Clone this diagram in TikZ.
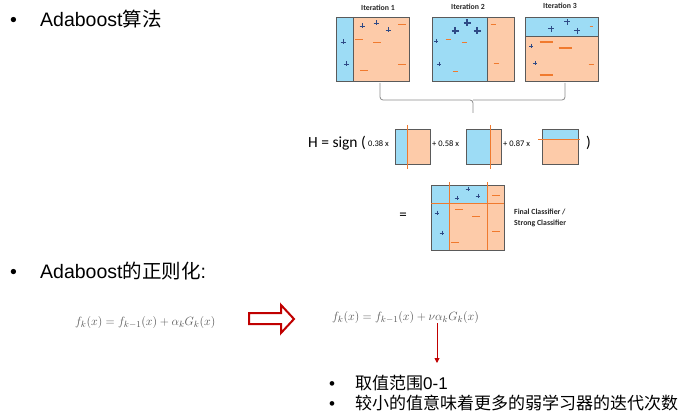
\documentclass[tikz,border=0pt]{standalone}
\usepackage{fontspec}
\usetikzlibrary{arrows.meta}
\setmainfont{Liberation Sans}
\newfontfamily\cjk{Noto Sans CJK SC}
\newfontfamily\calib{Carlito}
\definecolor{bluef}{HTML}{9DDCF5}
\definecolor{orangef}{HTML}{FDCBA9}
\definecolor{orangem}{HTML}{F07A2E}
\definecolor{plusc}{HTML}{2E4A86}
\definecolor{edgec}{HTML}{5A5A5A}
\definecolor{mathgray}{HTML}{555555}
\definecolor{darkred}{HTML}{C00000}
\definecolor{bracec}{HTML}{8A8A8A}
\newcommand\pls[3]{\draw[plusc,line width=#3/3] (#1-#3,#2)--(#1+#3,#2) (#1,#2-#3)--(#1,#2+#3);}
\newcommand\mns[4]{\draw[orangem,line width=#4] (#1-#3,#2)--(#1+#3,#2);}
\tikzset{
  boxedge/.style={draw=edgec,line width=0.9},
  sepline/.style={orangem,line width=1},
  ititle/.style={font=\calib\bfseries\fontsize{7.8}{9}\selectfont,text=black!85},
  coef/.style={font=\calib\fontsize{8.5}{10}\selectfont,anchor=west,inner sep=0},
  bigtxt/.style={font=\fontsize{19.5}{23}\selectfont,anchor=base west,inner sep=0},
  smalltxt/.style={font=\fontsize{17}{20}\selectfont,anchor=base west,inner sep=0},
  mathtxt/.style={font=\fontsize{12.7}{15}\selectfont,text=mathgray,anchor=base west,inner sep=0},
}
\begin{document}
\begin{tikzpicture}[x=1pt,y=-1pt]
\useasboundingbox (0,0) rectangle (682,414);
% ---- top bullet
\node[bigtxt] (b1) at (10,27) {•};
\node[bigtxt] (t1) at (40,27) {Adaboost{\cjk 算法}};
% ---- iteration 1
\node[ititle] (it1) at (378,8) {Iteration 1};
\fill[orangef] (336,17) rectangle (409,81);
\fill[bluef] (336,17) rectangle (353,81);
\draw[edgec,line width=0.8] (353,17)--(353,81);
\draw[boxedge] (336,17) rectangle (409,81);
\pls{362}{26}{2.5}\pls{376}{23}{2.5}\pls{388}{30}{2.5}\pls{343}{42}{2.5}\pls{346}{64}{2.5}
\mns{402}{25}{4}{1}\mns{359}{40}{4}{1}\mns{377}{43}{4}{1}\mns{402}{65}{4}{1}\mns{364}{71}{4}{1}
% ---- iteration 2
\node[ititle] (it2) at (468,7) {Iteration 2};
\fill[bluef] (432,17) rectangle (514,81);
\fill[orangef] (487,17) rectangle (514,81);
\draw[edgec,line width=0.8] (487,17)--(487,81);
\draw[boxedge] (432,17) rectangle (514,81);
\pls{455}{31}{3.5}\pls{467}{23}{3.5}\pls{477}{31}{3.5}\pls{436}{41}{2}\pls{439}{64}{2}
\mns{493}{25}{2.5}{1}\mns{448}{40}{2.5}{1}\mns{464}{43}{2.5}{1}\mns{496}{64}{2.5}{1}\mns{455}{72}{2.5}{1}
% ---- iteration 3
\node[ititle] (it3) at (560,6) {Iteration 3};
\fill[orangef] (525,17) rectangle (598,81);
\fill[bluef] (525,17) rectangle (598,36);
\draw[edgec,line width=0.8] (525,36)--(598,36);
\draw[boxedge] (525,17) rectangle (598,81);
\pls{551}{29}{3}\pls{567}{22}{3}\pls{577}{31}{3}\pls{531}{46}{2}\pls{535}{63}{2}
\mns{591}{27}{1.5}{1}\mns{546}{42}{6.5}{2}\mns{565}{48}{6.5}{2}\mns{591}{65}{2.5}{1}\mns{546}{75}{6.5}{2}
% ---- brace
\draw[bracec,line width=0.8,rounded corners=3] (380,83)--(380,100)--(473,100)--(473,113);
\draw[bracec,line width=0.8,rounded corners=3] (565,83)--(565,100)--(473,100);
% ---- H = sign( ... )
\node[font=\calib\fontsize{15.5}{18}\selectfont,anchor=west,inner sep=0] (H) at (308,143) {H = sign (};
\node[coef] (c1) at (368,144) {0.38 x};
\fill[orangef] (395,129) rectangle (430,164);
\fill[bluef] (395,129) rectangle (407,164);
\draw[boxedge] (395,129) rectangle (430,164);
\draw[sepline] (407,125)--(407,169);
\node[coef] (c2) at (432,144) {+ 0.58 x};
\fill[orangef] (466,129) rectangle (501,164);
\fill[bluef] (466,129) rectangle (490,164);
\draw[boxedge] (466,129) rectangle (501,164);
\draw[sepline] (490,125)--(490,169);
\node[coef] (c3) at (503,144) {+ 0.87 x};
\fill[orangef] (542,129) rectangle (578,164);
\fill[bluef] (542,129) rectangle (578,140);
\draw[boxedge] (542,129) rectangle (578,164);
\draw[sepline] (538,140)--(580,140);
\node[font=\calib\fontsize{15.5}{18}\selectfont,anchor=west,inner sep=0] (rp) at (586,143) {)};
% ---- final classifier
\node[font=\calib\fontsize{15}{18}\selectfont] (eq) at (403,216) {=};
\fill[orangef] (431,185) rectangle (504,250);
\fill[bluef] (431,185) rectangle (449,250);
\fill[bluef] (449,185) rectangle (487,203);
\draw[boxedge] (431,185) rectangle (504,250);
\draw[sepline] (449,182)--(449,250) (487,182)--(487,250) (431,203)--(504,203);
\pls{468}{189}{2.3}\pls{457}{198}{2.3}\pls{478}{196}{2.3}\pls{437}{213}{2.3}\pls{442}{233}{2.3}
\mns{496}{195}{4}{1}\mns{459}{209}{4}{1}\mns{476}{216}{4}{1}\mns{496}{231}{4}{1}\mns{455}{242}{4}{1}
\node[font=\calib\bfseries\fontsize{7.8}{9}\selectfont,anchor=west,inner sep=0,text=black!85,align=left] (fc) at (514,217.5) {Final Classifier /\\[2pt]Strong Classifier};
% ---- second bullet
\node[bigtxt] (b2) at (10,278) {•};
\node[bigtxt] (t2) at (40,278) {Adaboost{\cjk 的正则化}:};
% ---- formulas
\node[mathtxt] (f1) at (75,325) {$f_k(x)=f_{k-1}(x)+\alpha_kG_k(x)$};
\draw[darkred,line width=2,fill=white,line join=miter] (249,313)--(281,313)--(281,305)--(294,319)--(281,333)--(281,324)--(249,324)--cycle;
\node[mathtxt] (f2) at (332,320) {$f_k(x)=f_{k-1}(x)+\nu\alpha_kG_k(x)$};
\coordinate (nu) at (437,323);
\coordinate (nuend) at (437,363);
\draw[darkred,line width=0.9,-{Triangle[length=5pt,width=5pt]}] (nu)--(nuend);
% ---- bottom bullets
\node[smalltxt] (b3) at (329,389) {•};
\node[smalltxt] (t3) at (355,389) {{\cjk 取值范围}0-1};
\node[smalltxt] (b4) at (329,409) {•};
\node[smalltxt] (t4) at (355,409) {\cjk 较小的值意味着更多的弱学习器的迭代次数};
\end{tikzpicture}
\end{document}
